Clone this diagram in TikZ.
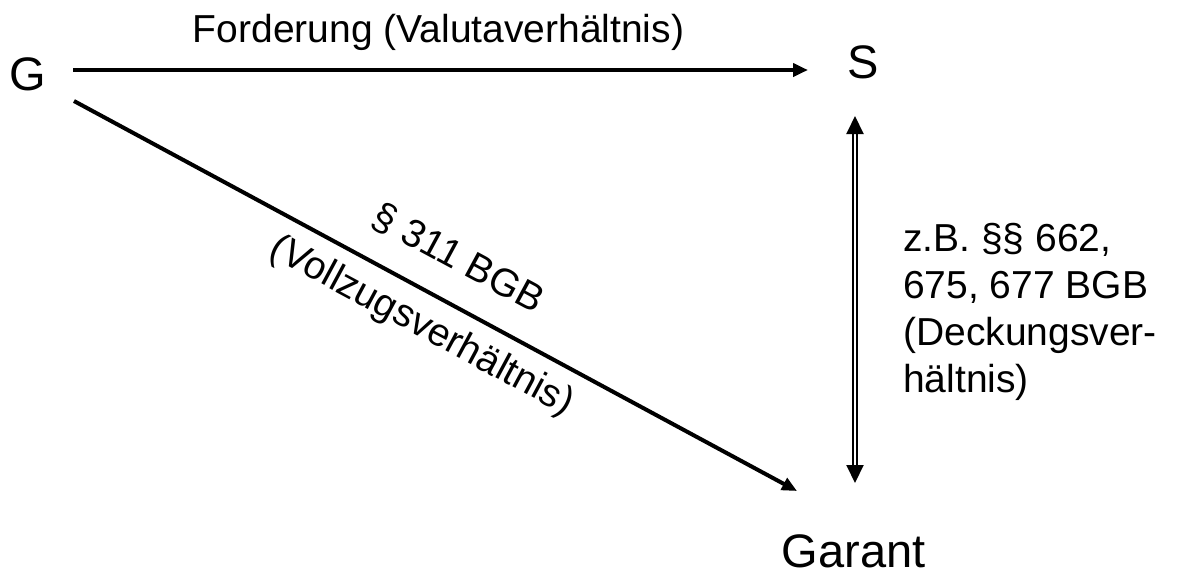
\documentclass[tikz,border=0pt]{standalone}
\usepackage{fontspec}
\setmainfont{Liberation Sans}
\usetikzlibrary{arrows.meta}
\begin{document}
\begin{tikzpicture}[x=1pt,y=-1pt,
  party/.style={inner sep=0pt, anchor=base, font=\fontsize{47}{56}\selectfont},
  lbl/.style={inner sep=0pt, font=\fontsize{39}{47}\selectfont},
  conn/.style={line width=4pt, -{Triangle[length=15pt,width=13pt]}},
  dconn/.style={double, line width=2pt, double distance=2pt,
    {Triangle[length=18pt,width=17pt]}-{Triangle[length=18pt,width=17pt]}}]
\useasboundingbox (0,0) rectangle (1179,574);
\node[party] (G) at (28,90) {G};
\node[party] (S) at (863,78) {S};
\node[party] (Gar) at (853.5,567) {Garant};
\coordinate (hA) at (73,70);
\coordinate (hB) at (808,70);
\coordinate (dA) at (74,101);
\coordinate (dB) at (797,491);
\coordinate (vA) at (855,116);
\coordinate (vB) at (855,483);
\draw[conn] (hA) -- (hB);
\draw[conn] (dA) -- (dB);
\draw[dconn] (vA) -- (vB);
\node[lbl, anchor=base] (l1) at (438.5,42) {Forderung (Valutaverhältnis)};
\node[lbl, rotate=-28.3] (l2) at (458.5,258.5) {§ 311 BGB};
\node[lbl, rotate=-28.3] (l3) at (421.5,326.5) {(Vollzugsverhältnis)};
\node[lbl, anchor=north west, align=left] (l4) at (903,223)
  {z.B. §§ 662,\\675, 677 BGB\\(Deckungsver-\\hältnis)};
\end{tikzpicture}
\end{document}
